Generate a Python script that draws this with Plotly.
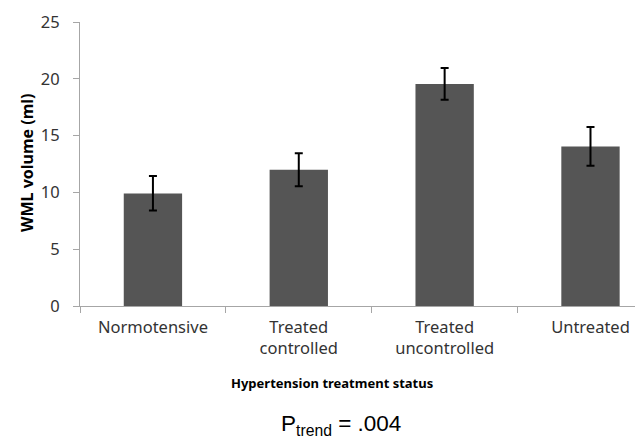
import plotly.graph_objects as go

categories = ["Normotensive", "Treated<br>controlled", "Treated<br>uncontrolled", "Untreated"]
wml_volume = [9.9, 12.0, 19.55, 14.05]
err_plus = [1.55, 1.45, 1.4, 1.7]
err_minus = [1.5, 1.45, 1.4, 1.7]
y_ticks = [0, 5, 10, 15, 20, 25]

# The page body has an 8px margin, so the figure is drawn 8px in from the window corner.
OFF = 8
W, H = 643 - OFF, 438 - OFF
L = 80 - OFF          # y-axis line at window x=80
T = 22 - OFF          # y=25 at window y=22
AXIS_Y = 306 - OFF    # x-axis at window y=306
PLOT_H = AXIS_Y - T

fig = go.Figure()
fig.add_trace(go.Bar(
    x=categories, y=wml_volume,
    width=0.4,
    marker=dict(color="#555555", line=dict(width=0)),
    error_y=dict(type="data", symmetric=False, array=err_plus, arrayminus=err_minus,
                 color="#000000", thickness=2, width=4),
))

fig.update_layout(
    width=W, height=H,
    margin=dict(l=L, r=0, t=T, b=H - AXIS_Y, autoexpand=False),
    paper_bgcolor="white", plot_bgcolor="white",
    showlegend=False,
    font=dict(family="Noto Sans", color="#333333"),
    xaxis=dict(
        type="category", range=[-0.5, 3.36],
        showline=True, linecolor="#a6a6a6", linewidth=1,
        ticks="outside", tickson="boundaries", ticklen=6, tickcolor="#a6a6a6",
        tickfont=dict(size=16.5, family="Noto Sans", color="#333333"),
        ticklabelstandoff=6,
        showgrid=False,
    ),
    yaxis=dict(
        range=[0, 25], tickvals=y_ticks,
        showline=True, linecolor="#a6a6a6", linewidth=1,
        ticks="outside", ticklen=6, tickcolor="#a6a6a6",
        tickfont=dict(size=16.5, family="Noto Sans", color="#333333"),
        ticklabelstandoff=10,
        showgrid=False, zeroline=False,
    ),
)

def px_x(px):
    return (px - 80) / (W - L)

def px_y(py):
    return (306 - py) / PLOT_H

fig.add_annotation(
    text="<b>WML volume (ml)</b>", xref="paper", yref="paper", textangle=-90,
    x=px_x(27), y=px_y(163), xanchor="center", yanchor="middle",
    showarrow=False, font=dict(size=16, family="Noto Sans", color="#000000"),
)
fig.add_annotation(
    text="<b>Hypertension treatment status</b>", xref="paper", yref="paper",
    x=px_x(332), y=px_y(383), xanchor="center", yanchor="middle",
    showarrow=False, font=dict(size=13, family="Noto Sans", color="#000000"),
)
fig.add_annotation(
    text="P<sub>trend</sub> = .004", xref="paper", yref="paper",
    x=px_x(341), y=px_y(425), xanchor="center", yanchor="middle",
    showarrow=False, font=dict(size=22.5, family="Liberation Sans", color="#000000"),
)

fig.write_html("out.html")
